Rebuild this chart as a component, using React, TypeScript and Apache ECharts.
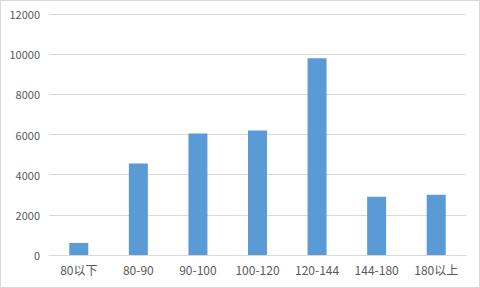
import React, { useEffect, useRef } from "react";
import * as echarts from "echarts";

const categories = ["80以下", "80-90", "90-100", "100-120", "120-144", "144-180", "180以上"];
const values = [600, 4550, 6050, 6200, 9800, 2900, 3000];

export default function App() {
  const ref = useRef<HTMLDivElement>(null);
  useEffect(() => {
    const chart = echarts.init(ref.current!, null, { renderer: "svg" });
    chart.setOption({
      animation: false,
      grid: { left: 49, right: 14, top: 14, bottom: 33 },
      xAxis: {
        type: "category",
        data: categories,
        axisLine: { lineStyle: { color: "#d9d9d9", width: 1 } },
        axisTick: { show: false },
        axisLabel: {
          color: "#595959",
          fontSize: 12,
          fontFamily: "Noto Sans CJK SC, sans-serif",
          margin: 8,
        },
      },
      yAxis: {
        type: "value",
        min: 0,
        max: 12000,
        interval: 2000,
        axisLine: { show: false },
        axisTick: { show: false },
        splitLine: { lineStyle: { color: "#d9d9d9", width: 1 } },
        axisLabel: {
          color: "#595959",
          fontSize: 11,
          fontFamily: "Noto Sans CJK SC, sans-serif",
          margin: 9,
          formatter: (v: number) => String(v),
        },
      },
      series: [
        {
          type: "bar",
          data: values,
          barWidth: 19,
          itemStyle: { color: "#5b9bd5" },
        },
      ],
    });
    return () => chart.dispose();
  }, []);
  return (
    <div
      style={{
        position: "fixed",
        left: 0,
        top: 0,
        width: 480,
        height: 288,
        boxSizing: "border-box",
        border: "1px solid #d9d9d9",
        background: "#fff",
      }}
    >
      <div ref={ref} style={{ position: "absolute", left: -1, top: -1, width: 480, height: 288 }} />
    </div>
  );
}
